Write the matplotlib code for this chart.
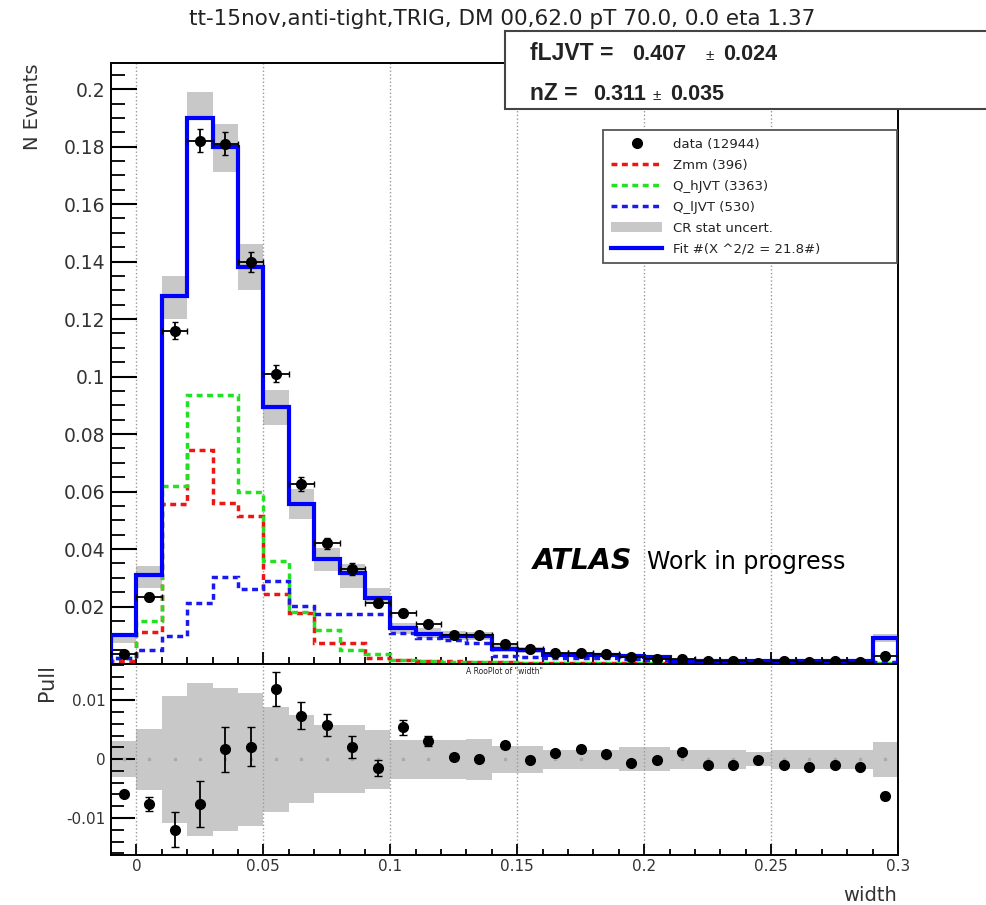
import numpy as np
import matplotlib
matplotlib.use("Agg")
import matplotlib.pyplot as plt
from matplotlib.lines import Line2D
from matplotlib.patches import Patch, Rectangle
from matplotlib.ticker import MultipleLocator, FuncFormatter

plt.rcParams['font.family'] = ['DejaVu Sans']

# --- DATA ---
# 31 bins of width 0.01 from -0.01 to 0.30
edges = np.round(np.arange(-0.01, 0.3001, 0.01), 3)
centers = edges[:-1] + 0.005

data_vals = [0.0035, 0.0233, 0.116, 0.182, 0.181, 0.140, 0.101, 0.0627, 0.042, 0.033,
             0.0213, 0.0178, 0.014, 0.010, 0.010, 0.007, 0.0052, 0.0038, 0.0038, 0.0035,
             0.0025, 0.0017, 0.0017, 0.0010, 0.0010, 0.0005, 0.0010, 0.0008, 0.0010, 0.0008,
             0.0028]
data_err = [0.0007, 0.0015, 0.003, 0.004, 0.004, 0.0035, 0.003, 0.0025, 0.002, 0.002,
            0.0015, 0.0013, 0.001, 0.0008, 0.0008, 0.0006, 0.0005, 0.0005, 0.0005, 0.0005,
            0.0004, 0.0004, 0.0004, 0.0003, 0.0003, 0.0003, 0.0003, 0.0003, 0.0003, 0.0003,
            0.0004]
fit_vals = [0.010, 0.031, 0.128, 0.190, 0.180, 0.138, 0.0895, 0.0555, 0.0365, 0.0315,
            0.023, 0.0125, 0.0105, 0.0098, 0.0097, 0.0052, 0.0050, 0.0032, 0.0030, 0.0030,
            0.0028, 0.0025, 0.0010, 0.0010, 0.0010, 0.0010, 0.0010, 0.0010, 0.0010, 0.0010,
            0.0092]
band_lo = [0.0073, 0.0265, 0.120, 0.190, 0.171, 0.130, 0.083, 0.0505, 0.0324, 0.0265,
           0.0213, 0.0105, 0.009, 0.0082, 0.0082, 0.0042, 0.004, 0.0025, 0.0025, 0.0025,
           0.002, 0.0018, 0.0005, 0.0005, 0.0005, 0.0005, 0.0005, 0.0005, 0.0005, 0.0005,
           0.0078]
band_hi = [0.0108, 0.034, 0.135, 0.199, 0.188, 0.146, 0.0955, 0.061, 0.0404, 0.0348,
           0.0265, 0.0143, 0.0125, 0.0115, 0.0112, 0.0065, 0.006, 0.004, 0.004, 0.004,
           0.0035, 0.0032, 0.0016, 0.0016, 0.0016, 0.0016, 0.0016, 0.0016, 0.0016, 0.0016,
           0.0105]
zmm_vals = [0.001, 0.011, 0.0557, 0.0745, 0.056, 0.0515, 0.0244, 0.0178, 0.0073, 0.0073,
            0.002, 0.0015, 0.001, 0.001, 0.0008, 0.0008, 0.0005, 0.0005, 0.0005, 0.0005,
            0.0005, 0.0005, 0.0004, 0.0004, 0.0004, 0.0003, 0.0003, 0.0003, 0.0003, 0.0003,
            0.0003]
qh_vals = [0.002, 0.015, 0.062, 0.0937, 0.0937, 0.060, 0.036, 0.018, 0.012, 0.005,
           0.0035, 0.0015, 0.001, 0.0008, 0.0008, 0.0006, 0.0005, 0.0005, 0.0005, 0.0005,
           0.0004, 0.0004, 0.0004, 0.0003, 0.0003, 0.0003, 0.0003, 0.0003, 0.0003, 0.0003,
           0.0003]
ql_vals = [0.002, 0.0048, 0.0097, 0.0213, 0.0303, 0.026, 0.029, 0.0202, 0.0174, 0.0174,
           0.0174, 0.0108, 0.009, 0.0082, 0.0074, 0.0028, 0.0025, 0.002, 0.002, 0.002,
           0.0018, 0.0015, 0.001, 0.001, 0.001, 0.001, 0.001, 0.001, 0.001, 0.001,
           0.0008]

pull_vals = [-0.0060, -0.0076, -0.0120, -0.0076, 0.0017, 0.0021, 0.0119, 0.0074, 0.0058, 0.0021,
             -0.0015, 0.0054, 0.0031, 0.0004, 0.0001, 0.0024, -0.0001, 0.0011, 0.0017, 0.0009,
             -0.0006, -0.0002, 0.0013, -0.0009, -0.0009, -0.0001, -0.0009, -0.0013, -0.0009, -0.0013,
             -0.0063]
pull_err = [0.0003, 0.0012, 0.003, 0.0039, 0.0038, 0.0033, 0.0029, 0.0023, 0.0019, 0.0019,
            0.0014, 0.0012, 0.0009, 0.0005, 0.0005, 0.0005, 0.0004, 0.0004, 0.0004, 0.0004,
            0.0004, 0.0004, 0.0004, 0.0004, 0.0004, 0.0004, 0.0004, 0.0004, 0.0004, 0.0004,
            0.0004]
pull_band = [0.0031, 0.0052, 0.0108, 0.013, 0.0122, 0.0113, 0.0089, 0.0075, 0.0058, 0.0058,
             0.005, 0.0033, 0.0033, 0.0033, 0.0035, 0.0023, 0.0023, 0.0016, 0.0016, 0.0016,
             0.002, 0.002, 0.0016, 0.0016, 0.0016, 0.0012, 0.0016, 0.0016, 0.0016, 0.0016,
             0.003]

legend_labels = ['data (12944)', 'Zmm (396)', 'Q_hJVT (3363)', 'Q_lJVT (530)',
                 'CR stat uncert.', 'Fit #(X ^2/2 = 21.8#)']

GREY = '#c8c8c8'
RED, GREEN, BLUE = '#ee1515', '#22e022', '#1a1aee'
DASH = (0, (1.7, 1.3))

fig = plt.figure(figsize=(9.87, 9.05), dpi=100)
ax = fig.add_axes([0.1125, 0.2663, 0.7973, 0.6641])
axp = fig.add_axes([0.1125, 0.0552, 0.7973, 0.2111])

# --- UPPER PANEL ---
ax.stairs(band_hi, edges, baseline=band_lo, fill=True, color=GREY, zorder=1)
ax.stairs(zmm_vals, edges, color=RED, lw=2.5, ls=DASH, zorder=2)
ax.stairs(qh_vals, edges, color=GREEN, lw=2.5, ls=DASH, zorder=2)
ax.stairs(ql_vals, edges, color=BLUE, lw=2.5, ls=DASH, zorder=2)
ax.stairs(fit_vals, edges, color='#0000ff', lw=3, zorder=3)
ax.errorbar(centers, data_vals, yerr=data_err, xerr=0.005, fmt='o', color='black',
            ms=7, elinewidth=1.3, capsize=2, zorder=4)

ax.set_xlim(-0.01, 0.3)
ax.set_ylim(0, 0.2091)
ax.yaxis.set_major_locator(MultipleLocator(0.02))
ax.yaxis.set_minor_locator(MultipleLocator(0.005))
ax.xaxis.set_major_locator(MultipleLocator(0.05))
ax.xaxis.set_minor_locator(MultipleLocator(0.01))
ax.yaxis.set_major_formatter(FuncFormatter(lambda v, p: '' if abs(v) < 1e-9 else f'{v:g}'))
ax.tick_params(axis='x', labelbottom=False)
ax.tick_params(axis='y', which='major', direction='in', length=19, width=1.5,
               labelsize=13.5, labelcolor='#333333', pad=4)
ax.tick_params(axis='y', which='minor', direction='in', length=10, width=1.3)
ax.tick_params(axis='x', which='major', direction='in', length=9, width=1.3)
ax.tick_params(axis='x', which='minor', direction='in', length=5, width=1.3)
ax.grid(axis='x', which='major', ls=':', color='#999999', lw=1)

handles = [Line2D([], [], marker='o', ls='none', color='black', ms=7),
           Line2D([], [], color=RED, lw=2.5, ls=DASH),
           Line2D([], [], color=GREEN, lw=2.5, ls=DASH),
           Line2D([], [], color=BLUE, lw=2.5, ls=DASH),
           Patch(facecolor=GREY, edgecolor='none'),
           Line2D([], [], color='#0000ff', lw=3)]
leg = ax.legend(handles, legend_labels, loc='upper left', mode='expand',
                bbox_to_anchor=(0.6252, 0.6656, 0.3735, 0.2229), borderaxespad=0,
                fontsize=9.5, handlelength=3.9, handletextpad=0.8, borderpad=0.6,
                labelspacing=0.6, fancybox=False, framealpha=1, edgecolor='#555555')
leg.get_frame().set_linewidth(1.3)
for t in leg.get_texts():
    t.set_color('#222222')

ax.text(0.536, 0.158, 'ATLAS', transform=ax.transAxes, fontsize=20.5,
        fontweight='bold', fontstyle='italic', va='baseline')
ax.text(0.681, 0.158, 'Work in progress', transform=ax.transAxes, fontsize=17,
        va='baseline')

# --- LOWER PANEL ---
axp.stairs(pull_band, edges, baseline=[-b for b in pull_band], fill=True, color=GREY, zorder=1)
axp.plot(centers, np.zeros(len(centers)), 's', color='#aaaaaa', ms=1.8, zorder=2)
axp.errorbar(centers, pull_vals, yerr=pull_err, fmt='o', color='black', ms=7,
             elinewidth=1.3, capsize=3, zorder=4)
axp.set_xlim(-0.01, 0.3)
axp.set_ylim(-0.0163, 0.0162)
axp.yaxis.set_major_locator(MultipleLocator(0.01))
axp.yaxis.set_minor_locator(MultipleLocator(0.002))
axp.xaxis.set_major_locator(MultipleLocator(0.05))
axp.xaxis.set_minor_locator(MultipleLocator(0.01))
axp.yaxis.set_major_formatter(FuncFormatter(lambda v, p: f'{v:g}' if abs(v) > 1e-9 else '0'))
axp.xaxis.set_major_formatter(FuncFormatter(lambda v, p: f'{v:g}' if abs(v) > 1e-9 else '0'))
axp.tick_params(axis='y', which='major', direction='in', length=17, width=1.5,
                labelsize=11, labelcolor='#333333', pad=4)
axp.tick_params(axis='y', which='minor', direction='in', length=9, width=1.3)
axp.tick_params(axis='x', which='major', direction='in', length=8, width=1.3,
                labelsize=11, labelcolor='#333333', pad=3)
axp.tick_params(axis='x', which='minor', direction='in', length=4, width=1.3)
axp.grid(axis='x', which='major', ls=':', color='#999999', lw=1)
axp.text(0.5, 0.96, 'A RooPlot of "width"', transform=axp.transAxes, fontsize=5.5,
         ha='center', va='center', color='#222222')

for a in (ax, axp):
    for s in a.spines.values():
        s.set_linewidth(1.4)

# --- LABELS, TITLE, STATS BOX ---
fig.text(502 / 987, 1 - 19 / 905, 'tt-15nov,anti-tight,TRIG, DM 00,62.0 pT 70.0, 0.0 eta 1.37',
         ha='center', va='center', fontsize=15.5, color='#222222')
fig.text(33 / 987, 1 - 64 / 905, 'N Events', rotation=90, ha='center', va='top',
         fontsize=14, color='#333333')
fig.text(47 / 987, 1 - 664 / 905, 'Pull', rotation=90, ha='center', va='top',
         fontsize=15, color='#333333')
fig.text(897 / 987, 1 - 895 / 905, 'width', ha='right', va='center', fontsize=14,
         color='#333333')

box = Rectangle((505 / 987, 1 - 109 / 905), 500 / 987, 78 / 905, transform=fig.transFigure,
                facecolor='white', edgecolor='#444444', lw=1.5, zorder=10)
fig.patches.append(box)
stats = [('fLJVT = ', '0.407', '0.024', 60, 632, 723),
         ('nZ = ', '0.311', '0.035', 100, 593, 670)]
for name, val, err, yb, xv, xe in stats:
    kw = dict(fontsize=15.5, fontweight='bold', va='baseline', color='#222222', zorder=11,
              family='Liberation Sans')
    fig.text(530 / 987, 1 - yb / 905, name, **dict(kw, fontsize=16.5))
    fig.text(xv / 987, 1 - yb / 905, val, **kw)
    fig.text((xe - 17) / 987, 1 - yb / 905, '±', fontsize=11, va='baseline',
             color='#222222', zorder=11, family='Liberation Sans')
    fig.text(xe / 987, 1 - yb / 905, err, **kw)

fig.savefig('out.png', dpi=100, facecolor='white')
